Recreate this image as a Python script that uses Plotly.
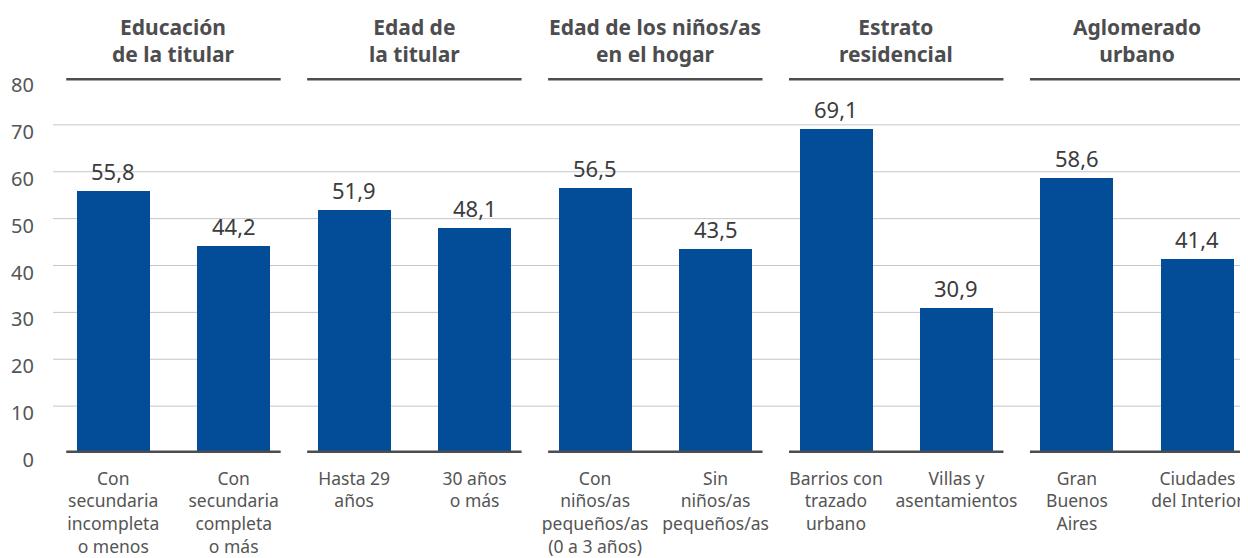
import plotly.graph_objects as go

# Data
categories = [
    "Con<br>secundaria<br>incompleta<br>o menos",
    "Con<br>secundaria<br>completa<br>o más",
    "Hasta 29<br>años",
    "30 años<br>o más",
    "Con<br>niños/as<br>pequeños/as<br>(0 a 3 años)",
    "Sin<br>niños/as<br>pequeños/as",
    "Barrios con<br>trazado<br>urbano",
    "Villas y<br>asentamientos",
    "Gran<br>Buenos<br>Aires",
    "Ciudades<br>del Interior",
]
values = [55.8, 44.2, 51.9, 48.1, 56.5, 43.5, 69.1, 30.9, 58.6, 41.4]
groups = [
    "Educación<br>de la titular",
    "Edad de<br>la titular",
    "Edad de los niños/as<br>en el hogar",
    "Estrato<br>residencial",
    "Aglomerado<br>urbano",
]
y_ticks = [0, 10, 20, 30, 40, 50, 60, 70, 80]

BAR_COLOR = "#024C98"
DARK = "#4d4d4f"
FONT = "Noto Sans"

x_pos = list(range(len(categories)))
labels = [f"{v:.1f}".replace(".", ",") for v in values]

fig = go.Figure()

fig.add_trace(go.Bar(
    x=x_pos,
    y=values,
    width=0.606,
    marker=dict(color=BAR_COLOR, line=dict(width=0)),
    hoverinfo="skip",
))

shapes = []
# light gridlines (no line at 0 or 80)
for t in y_ticks[1:-1]:
    shapes.append(dict(type="line", xref="paper", yref="y", x0=0, x1=1, y0=t, y1=t,
                       line=dict(color="#c6c6c6", width=1), layer="below"))

annotations = []
# value labels above bars
for xp, v, lab in zip(x_pos, values, labels):
    annotations.append(dict(
        x=xp, y=v, xref="x", yref="y", text=lab, showarrow=False,
        yanchor="bottom", yshift=3, font=dict(size=22, color="#3c3c3c", family=FONT),
    ))

# group header lines and segmented baseline
for i, g in enumerate(groups):
    c = 2 * i + 0.5
    for yv in (0, 80):
        shapes.append(dict(type="line", xref="x", yref="y", x0=c - 0.89, x1=c + 0.89,
                           y0=yv, y1=yv, line=dict(color=DARK, width=5), layer="above"))
    annotations.append(dict(
        x=c, y=80, xref="x", yref="y", text=f"<b>{g}</b>", showarrow=False,
        yanchor="bottom", yshift=8, font=dict(size=21, color=DARK, family=FONT),
        align="center",
    ))

# page body adds an 8px offset, so the figure is sized 8px smaller each way
fig.update_layout(
    width=1240,
    height=550,
    margin=dict(l=45, r=0, t=70, b=105),
    plot_bgcolor="white",
    paper_bgcolor="white",
    showlegend=False,
    bargap=0,
    shapes=shapes,
    annotations=annotations,
    xaxis=dict(
        range=[-0.5, 9.42],
        tickvals=x_pos,
        ticktext=categories,
        showgrid=False,
        zeroline=False,
        showline=False,
        ticks="",
        ticklabelstandoff=13,
        tickfont=dict(size=17.5, color="#555555", family=FONT),
        fixedrange=True,
    ),
    yaxis=dict(
        range=[0, 80],
        tickvals=y_ticks,
        showgrid=False,
        zeroline=False,
        showline=False,
        ticks="",
        ticklabelstandoff=18,
        ticklabelshift=7,
        tickfont=dict(size=20, color="#555555", family=FONT),
        fixedrange=True,
    ),
)

fig.write_html("out.html")
